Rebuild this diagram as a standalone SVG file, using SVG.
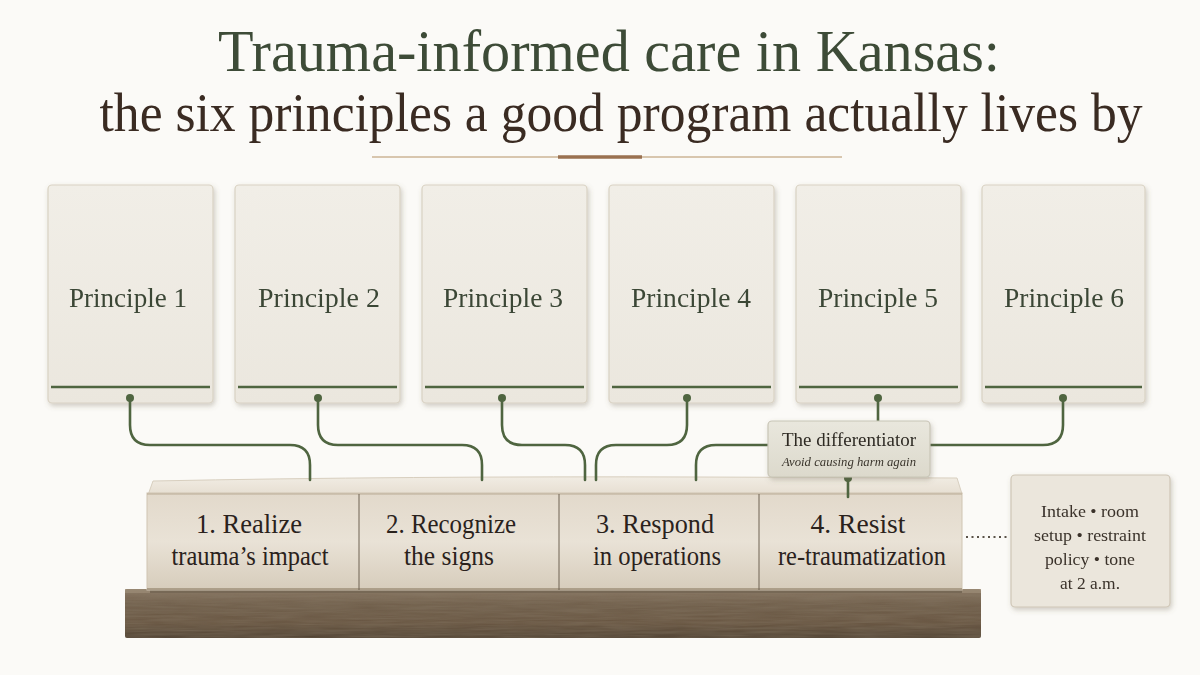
<svg xmlns="http://www.w3.org/2000/svg" width="1200" height="675" viewBox="0 0 1200 675">
<defs>
<style>
.title{font-family:"Liberation Serif","DejaVu Serif",serif;text-anchor:middle}
.plabel{font-family:"Liberation Serif",serif;font-size:28px;fill:#3b4636;text-anchor:middle}
.blabel{font-family:"Liberation Serif",serif;font-size:28px;fill:#2a221c;text-anchor:middle}
.note{font-family:"Liberation Serif",serif;font-size:17px;fill:#3a322a;text-anchor:middle}
.card{fill:url(#paper);stroke:#d9d2c3;stroke-width:1.2}
.rule{stroke:#4f6540;stroke-width:2.6}
.conn{fill:none;stroke:#4f6540;stroke-width:2.6;stroke-linecap:round}
.dot{fill:#4f6540}
</style>
<linearGradient id="paper" x1="0" y1="0" x2="0" y2="1">
<stop offset="0" stop-color="#f1eee7"/><stop offset="1" stop-color="#ebe7de"/>
</linearGradient>
<linearGradient id="stoneFront" x1="0" y1="0" x2="0" y2="1">
<stop offset="0" stop-color="#e2d9cb"/><stop offset="0.5" stop-color="#e9e2d6"/><stop offset="1" stop-color="#d6ccbb"/>
</linearGradient>
<linearGradient id="stoneTop" x1="0" y1="0" x2="0" y2="1">
<stop offset="0" stop-color="#f1ece3"/><stop offset="1" stop-color="#e6ded1"/>
</linearGradient>
<linearGradient id="wood" x1="0" y1="0" x2="0" y2="1">
<stop offset="0" stop-color="#8a7864"/><stop offset="0.3" stop-color="#6f5d49"/><stop offset="0.7" stop-color="#65523e"/><stop offset="1" stop-color="#4d3f30"/>
</linearGradient>
<linearGradient id="diffG" x1="0" y1="0" x2="0" y2="1">
<stop offset="0" stop-color="#e9e7dd"/><stop offset="1" stop-color="#dcd9cc"/>
</linearGradient>
<filter id="shadow" x="-10%" y="-10%" width="125%" height="125%">
<feDropShadow dx="1.5" dy="2.5" stdDeviation="2.5" flood-color="#6b5e48" flood-opacity="0.3"/>
</filter>
<filter id="grain" x="0" y="0" width="100%" height="100%">
<feTurbulence type="fractalNoise" baseFrequency="0.02 0.5" numOctaves="3" seed="4" result="n"/>
<feColorMatrix in="n" type="matrix" values="0 0 0 0 0.25  0 0 0 0 0.2  0 0 0 0 0.14  0 0 0 0.55 0" result="c"/>
<feComposite in="c" in2="SourceGraphic" operator="in"/>
</filter>
</defs>
<rect width="1200" height="675" fill="#fbfaf7"/>

<g id="title">
<text class="title" x="609" y="71" font-size="59" fill="#3d4b37" textLength="782" lengthAdjust="spacingAndGlyphs">Trauma-informed care in Kansas:</text>
<text class="title" x="621" y="131" font-size="54" fill="#3a2b22" textLength="1043" lengthAdjust="spacingAndGlyphs">the six principles a good program actually lives by</text>
<line x1="372" y1="157" x2="842" y2="157" stroke="#cdb596" stroke-width="1.5"/>
<line x1="558" y1="157" x2="642" y2="157" stroke="#9a7150" stroke-width="3.5"/>
</g>

<g id="principle1" filter="url(#shadow)">
<rect class="card" x="48" y="185" width="165" height="218" rx="4"/>
<line class="rule" x1="51" y1="387" x2="210" y2="387"/>
<text class="plabel" x="128" y="307" textLength="118" lengthAdjust="spacingAndGlyphs">Principle 1</text>
</g>
<g id="principle2" filter="url(#shadow)">
<rect class="card" x="235" y="185" width="165" height="218" rx="4"/>
<line class="rule" x1="238" y1="387" x2="397" y2="387"/>
<text class="plabel" x="319" y="307" textLength="122" lengthAdjust="spacingAndGlyphs">Principle 2</text>
</g>
<g id="principle3" filter="url(#shadow)">
<rect class="card" x="422" y="185" width="165" height="218" rx="4"/>
<line class="rule" x1="425" y1="387" x2="584" y2="387"/>
<text class="plabel" x="503" y="307" textLength="120" lengthAdjust="spacingAndGlyphs">Principle 3</text>
</g>
<g id="principle4" filter="url(#shadow)">
<rect class="card" x="609" y="185" width="165" height="218" rx="4"/>
<line class="rule" x1="612" y1="387" x2="771" y2="387"/>
<text class="plabel" x="691" y="307" textLength="120" lengthAdjust="spacingAndGlyphs">Principle 4</text>
</g>
<g id="principle5" filter="url(#shadow)">
<rect class="card" x="796" y="185" width="165" height="218" rx="4"/>
<line class="rule" x1="799" y1="387" x2="958" y2="387"/>
<text class="plabel" x="878" y="307" textLength="120" lengthAdjust="spacingAndGlyphs">Principle 5</text>
</g>
<g id="principle6" filter="url(#shadow)">
<rect class="card" x="982" y="185" width="163" height="218" rx="4"/>
<line class="rule" x1="985" y1="387" x2="1142" y2="387"/>
<text class="plabel" x="1064" y="307" textLength="120" lengthAdjust="spacingAndGlyphs">Principle 6</text>
</g>

<g id="plank">
<rect x="125" y="589" width="856" height="49" rx="2" fill="url(#wood)"/>
<rect x="125" y="589" width="856" height="49" rx="2" fill="#fff" filter="url(#grain)"/>
<rect x="125" y="589" width="856" height="4" fill="#9d8d78" opacity="0.7"/>
</g>

<g id="foundation">
<rect x="150" y="585" width="812" height="8" fill="#3e3326" opacity="0.35"/>
<path d="M153,481 Q400,476 700,477 L957,478 L962,494 L148,495 Z" fill="url(#stoneTop)" stroke="#d8cfbf" stroke-width="1"/>
<rect x="147" y="493" width="815" height="97" fill="url(#stoneFront)" stroke="#cfc4b2" stroke-width="1"/>
<line x1="147" y1="494" x2="962" y2="494" stroke="#b9ab95" stroke-width="1.2"/>
<line x1="147" y1="589" x2="962" y2="589" stroke="#9e8f79" stroke-width="1.5"/>
<line x1="359" y1="494" x2="359" y2="590" stroke="#6e6253" stroke-width="1"/>
<line x1="559" y1="494" x2="559" y2="590" stroke="#6e6253" stroke-width="1"/>
<line x1="759" y1="494" x2="759" y2="590" stroke="#6e6253" stroke-width="1"/>
</g>
<g id="block1">
<text class="blabel" x="249" y="533" textLength="106" lengthAdjust="spacingAndGlyphs">1. Realize</text>
<text class="blabel" x="250" y="565" textLength="157" lengthAdjust="spacingAndGlyphs">trauma’s impact</text>
</g>
<g id="block2">
<text class="blabel" x="451" y="533" textLength="130" lengthAdjust="spacingAndGlyphs">2. Recognize</text>
<text class="blabel" x="449" y="565" textLength="90" lengthAdjust="spacingAndGlyphs">the signs</text>
</g>
<g id="block3">
<text class="blabel" x="655" y="533" textLength="118" lengthAdjust="spacingAndGlyphs">3. Respond</text>
<text class="blabel" x="657" y="565" textLength="128" lengthAdjust="spacingAndGlyphs">in operations</text>
</g>
<g id="block4">
<text class="blabel" x="858" y="533" textLength="95" lengthAdjust="spacingAndGlyphs">4. Resist</text>
<text class="blabel" x="862" y="565" textLength="168" lengthAdjust="spacingAndGlyphs">re-traumatization</text>
</g>

<g id="connectors">
<path class="conn" d="M130,398 V425 Q130,445 150,445 H290 Q310,445 310,465 V480"/>
<path class="conn" d="M318,398 V425 Q318,445 338,445 H462 Q482,445 482,465 V480"/>
<path class="conn" d="M502,398 V425 Q502,445 522,445 H565 Q585,445 585,465 V480"/>
<path class="conn" d="M687,398 V425 Q687,445 667,445 H616 Q596,445 596,465 V480"/>
<path class="conn" d="M768,445 H716 Q696,445 696,465 V480"/>
<path class="conn" d="M878,398 V422"/>
<path class="conn" d="M1063,398 V425 Q1063,445 1043,445 H930"/>
<path class="conn" d="M848,478 V497"/>
<circle class="dot" cx="130" cy="398" r="4"/>
<circle class="dot" cx="318" cy="398" r="4"/>
<circle class="dot" cx="502" cy="398" r="4"/>
<circle class="dot" cx="687" cy="398" r="4"/>
<circle class="dot" cx="878" cy="398" r="4"/>
<circle class="dot" cx="1063" cy="398" r="4"/>
<circle class="dot" cx="848" cy="478" r="4"/>
<line x1="966" y1="537" x2="1010" y2="537" stroke="#5a5248" stroke-width="2.2" stroke-dasharray="2 3.5"/>
</g>

<g id="differentiator" filter="url(#shadow)">
<rect x="768" y="421" width="162" height="56" rx="4" fill="url(#diffG)" stroke="#c8c5b6" stroke-width="1.2"/>
<text x="849" y="446" font-family="Liberation Serif,serif" font-size="19" fill="#2e2a24" text-anchor="middle" textLength="134" lengthAdjust="spacingAndGlyphs">The differentiator</text>
<text x="849" y="466" font-family="Liberation Serif,serif" font-size="13" font-style="italic" fill="#3a352c" text-anchor="middle" textLength="134" lengthAdjust="spacingAndGlyphs">Avoid causing harm again</text>
</g>

<g id="note" filter="url(#shadow)">
<rect x="1011" y="475" width="159" height="132" rx="4" fill="#ebe6dc" stroke="#cfc6b6" stroke-width="1.2"/>
<text class="note" x="1090" y="517" textLength="98" lengthAdjust="spacingAndGlyphs">Intake • room</text>
<text class="note" x="1090" y="541" textLength="112" lengthAdjust="spacingAndGlyphs">setup • restraint</text>
<text class="note" x="1090" y="565" textLength="90" lengthAdjust="spacingAndGlyphs">policy • tone</text>
<text class="note" x="1090" y="589" textLength="60" lengthAdjust="spacingAndGlyphs">at 2 a.m.</text>
</g>
</svg>
